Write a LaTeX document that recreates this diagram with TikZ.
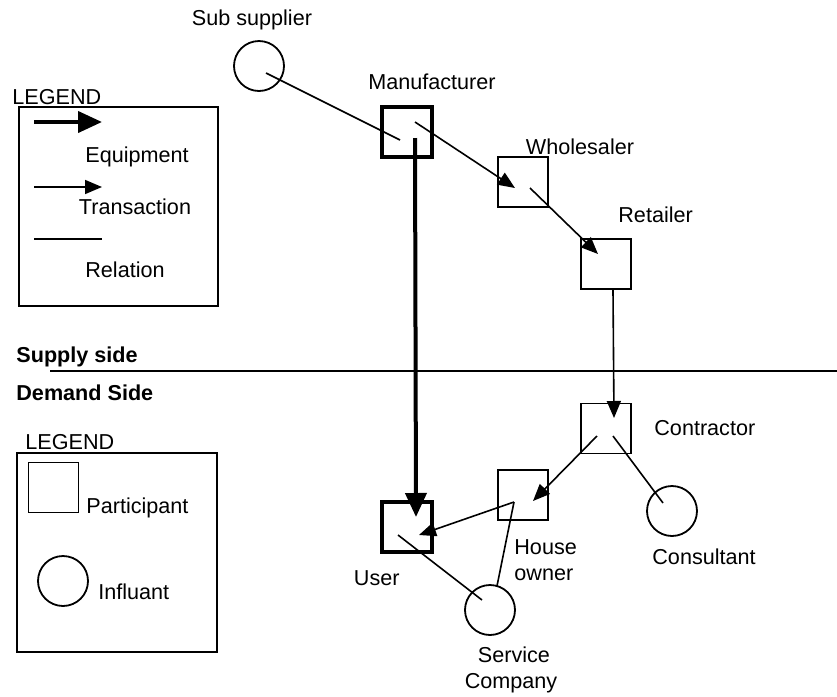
\documentclass[tikz,border=0pt]{standalone}
\usepackage{fontspec}
\setmainfont{Liberation Sans}
\usetikzlibrary{arrows.meta}
\tikzset{
  participant/.style={draw, line width=0.9pt, minimum size=25pt, inner sep=0pt},
  participantbold/.style={participant, line width=2pt},
  influant/.style={draw, circle, line width=0.9pt, minimum size=25pt, inner sep=0pt},
  lbl/.style={inner sep=0pt, font=\fontsize{10.8}{13}\selectfont},
  trans/.style={line width=0.8pt, -{Triangle[length=8.5pt,width=7pt]}},
  equip/.style={line width=2pt, -{Triangle[length=12pt,width=10.5pt]}},
  relation/.style={line width=0.8pt},
}

\begin{document}
\begin{tikzpicture}[x=0.5pt,y=-0.5pt]
  \useasboundingbox (0,0) rectangle (837,697);
  % supply side
  \node[influant] (sub) at (259,66) {};
  \node[participantbold] (manu) at (406.5,131.5) {};
  \node[participant] (whole) at (523,182) {};
  \node[participant] (retail) at (606,264) {};
  \node[lbl] (sublbl) at (252,20) {Sub supplier};
  \node[lbl] (manulbl) at (432,82) {Manufacturer};
  \node[lbl] (wholelbl) at (580,147) {Wholesaler};
  \node[lbl, anchor=west] (retaillbl) at (618,215) {Retailer};
  % demand side
  \node[participant] (contr) at (606,428.5) {};
  \node[participant] (house) at (523,495) {};
  \node[participantbold] (user) at (407,527) {};
  \node[influant] (consult) at (672,511) {};
  \node[influant] (service) at (490,610) {};
  \node[lbl, anchor=west] (contrlbl) at (654,428) {Contractor};
  \node[lbl, anchor=west] (consultlbl) at (652,557) {Consultant};
  \node[lbl, anchor=west] (houselbl) at (514,547) {House};
  \node[lbl, anchor=west] (ownerlbl) at (514,575) {owner};
  \node[lbl, anchor=east] (userlbl) at (400,578) {User};
  \node[lbl] (servlbl) at (514,655) {Service};
  \node[lbl] (complbl) at (511,683) {Company};

  % divider
  \coordinate (divL) at (50,371);
  \coordinate (divR) at (837,371);
  \draw[relation] (divL) -- (divR);
  \node[lbl, anchor=west, font=\fontsize{10.8}{13}\selectfont\bfseries] (supplylbl) at (16,357) {Supply side};
  \node[lbl, anchor=west, font=\fontsize{10.8}{13}\selectfont\bfseries] (demandlbl) at (16,393) {Demand Side};

  % flows
  \draw[relation] ([shift={(7,7)}]sub.center) -- ([shift={(-6.5,8.5)}]manu.center);
  \draw[trans] ([shift={(8.5,-9.5)}]manu.center) -- ([shift={(-8,6)}]whole.center);
  \draw[trans] ([shift={(7,6)}]whole.center) -- ([shift={(-8,-10)}]retail.center);
  \draw[trans] ([shift={(7,0)}]retail.south) -- ([shift={(8,-10.5)}]contr.center);
  \draw[equip] ([shift={(8.5,6.5)}]manu.center) -- ([shift={(9,-10)}]user.center);
  \draw[trans] ([shift={(-9,7.5)}]contr.center) -- ([shift={(10,6)}]house.center);
  \draw[trans] ([shift={(-9,7)}]house.center) -- ([shift={(12,8)}]user.center);
  \draw[relation] ([shift={(-9,8)}]user.center) -- ([shift={(-8,-10)}]service.center);
  \draw[relation] ([shift={(-9,7)}]house.center) -- ([shift={(7,-24)}]service.center);
  \draw[relation] ([shift={(7,7.5)}]contr.center) -- ([shift={(-9,-8)}]consult.center);

  % legend: connectors
  \node[lbl, anchor=west] (legA) at (12,97) {LEGEND};
  \draw[relation] (19,107) rectangle (218,306);
  \coordinate (eqA) at (34,122);
  \coordinate (eqB) at (102,122);
  \draw[equip] (eqA) -- (eqB);
  \node[lbl] (eqlbl) at (137,157) {Equipment};
  \coordinate (trA) at (34,187);
  \coordinate (trB) at (102,187);
  \draw[trans] (trA) -- (trB);
  \node[lbl] (trlbl) at (135,207) {Transaction};
  \coordinate (relA) at (34,239);
  \coordinate (relB) at (102,239);
  \draw[relation] (relA) -- (relB);
  \node[lbl] (rellbl) at (125,270) {Relation};

  % legend: actors
  \node[lbl, anchor=west] (legB) at (25,442) {LEGEND};
  \draw[relation] (17,453) rectangle (217,652);
  \node[participant] (legpart) at (53.5,487.5) {};
  \node[lbl, anchor=west] (partlbl) at (86,508) {Participant};
  \node[influant] (leginf) at (63,581) {};
  \node[lbl, anchor=west] (inflbl) at (98,592) {Influant};
\end{tikzpicture}
\end{document}
